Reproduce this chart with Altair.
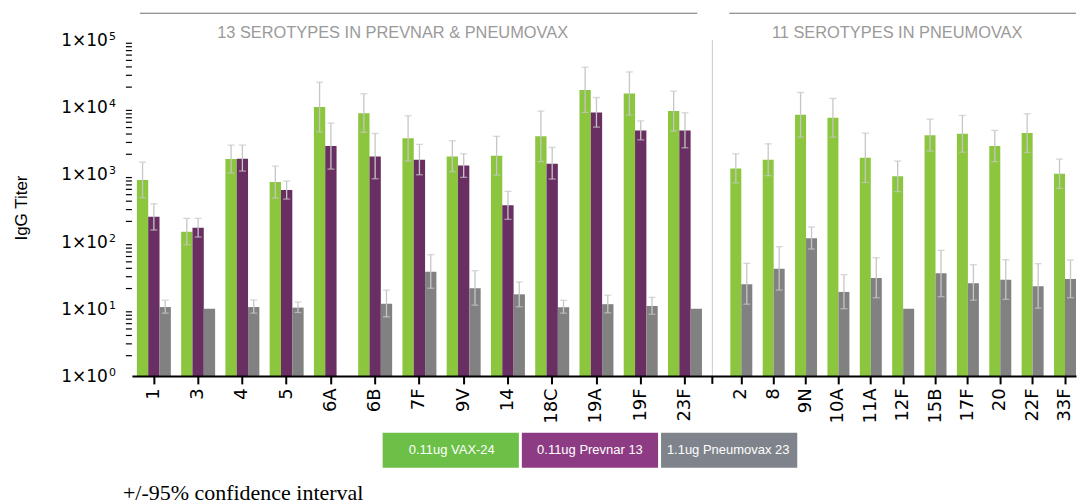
import altair as alt
import pandas as pd

# ---------------- data ----------------
LEFT_CATS = ["1", "3", "4", "5", "6A", "6B", "7F", "9V", "14", "18C", "19A", "19F", "23F"]
RIGHT_CATS = ["2", "8", "9N", "10A", "11A", "12F", "15B", "17F", "20", "22F", "33F"]
SERIES = ["0.11ug VAX-24", "0.11ug Prevnar 13", "1.1ug Pneumovax 23"]
BAR_COLORS = ["#8cc63f", "#6a2f62", "#818181"]
LEGEND_COLORS = ["#6cbf47", "#8d3c84", "#7f848c"]
HEADERS = ["13 SEROTYPES IN PREVNAR & PNEUMOVAX", "11 SEROTYPES IN PNEUMOVAX"]
Y_TITLE = "IgG Titer"
FOOTNOTE = "+/-95% confidence interval"
Y_TICKS = [1, 10, 100, 1000, 10000, 100000]
Y_TICK_BASE = ["1×10", "1×10", "1×10", "1×10", "1×10", "1×10"]
Y_TICK_EXP = ["0", "1", "2", "3", "4", "5"]
Y_MINOR = [2, 3, 4, 5, 6, 7, 8, 9,
           20, 30, 40, 50, 60, 70, 80, 90,
           200, 300, 400, 500, 600, 700, 800, 900,
           2000, 3000, 4000, 5000, 6000, 7000, 8000, 9000,
           20000, 30000, 40000, 50000, 60000, 70000, 80000, 90000]

VAX_L = [830, 140, 1700, 770, 10100, 8200, 3450, 1860, 1900, 3700, 18200, 16100, 8800]
VAX_L_HI = [1530, 222, 2740, 1330, 23700, 15900, 7500, 3180, 3700, 8800, 39600, 33700, 17400]
VAX_L_LO = [450, 90, 1050, 445, 4300, 4250, 1590, 1100, 980, 1550, 8400, 7700, 4450]
PREV_L = [235, 161, 1720, 586, 2650, 1860, 1655, 1366, 347, 1443, 8400, 4530, 4530]
PREV_L_HI = [366, 222, 2740, 798, 5820, 4080, 2805, 2033, 560, 2530, 14000, 6300, 8280]
PREV_L_LO = [149, 117, 1124, 430, 1203, 863, 990, 906, 215, 855, 5075, 3280, 2495]
PNEU_L = [10.6, 10, 10.6, 10.4, None, 11.9, 35.6, 20.2, 16.4, 10.5, 11.7, 11.0, 10]
PNEU_L_HI = [13.4, None, 13.5, 12.6, None, 18.9, 63.8, 36.9, 25.0, 13.4, 15.9, 14.8, None]
PNEU_L_LO = [8.6, None, 8.6, 8.8, None, 7.6, 20.2, 11.3, 10.7, 8.6, 8.7, 8.3, None]

VAX_R = [1230, 1655, 7740, 6980, 1770, 937, 3855, 4035, 2650, 4130, 1024]
VAX_R_HI = [2030, 2860, 16650, 13560, 4130, 1585, 6670, 7570, 4530, 8010, 1694]
VAX_R_LO = [750, 960, 3600, 3590, 760, 555, 2230, 2150, 1550, 2130, 620]
PNEU_R = [23.2, 39.5, 112, 17.8, 28.7, 10, 33.7, 23.9, 27.1, 21.6, 27.8]
PNEU_R_HI = [47.5, 84, 165, 32.2, 57.6, None, 74.2, 45.3, 53.8, 46.9, 53.2]
PNEU_R_LO = [11.7, 19, 77.6, 10.0, 14.6, None, 15.1, 13.4, 13.8, 10.2, 14.6]


def long_frame(cats, series_data):
    rows = []
    for name, vals, los, his in series_data:
        for c, v, lo, hi in zip(cats, vals, los, his):
            if v is None:
                continue
            rows.append({"cat": c, "grp": name, "v": v, "lo": lo, "hi": hi})
    return pd.DataFrame(rows)


left_df = long_frame(LEFT_CATS, [(SERIES[0], VAX_L, VAX_L_LO, VAX_L_HI),
                                 (SERIES[1], PREV_L, PREV_L_LO, PREV_L_HI),
                                 (SERIES[2], PNEU_L, PNEU_L_LO, PNEU_L_HI)])
right_df = long_frame(RIGHT_CATS, [(SERIES[0], VAX_R, VAX_R_LO, VAX_R_HI),
                                   (SERIES[2], PNEU_R, PNEU_R_LO, PNEU_R_HI)])

# ---------------- style ----------------
FONT = "Liberation Sans"
ERR = "#c6c6c6"
H = 336
WL, WR = 581, 364

ys = alt.Scale(type="log", domain=[1, 100000], nice=False)
color = alt.Color("grp:N", scale=alt.Scale(domain=SERIES, range=BAR_COLORS), legend=None)

xaxis = alt.Axis(title=None, labelAngle=-90, labelFontSize=18, labelFont="DejaVu Sans",
                 labelColor="black", tickColor="black", tickWidth=2, tickSize=8,
                 domainColor="black", domainWidth=2, labelPadding=4, labelOverlap=False,
                 zindex=1)
yaxis = alt.Axis(values=Y_TICKS, labels=False, title=None, tickSize=10, tickWidth=2,
                 tickColor="black", domainColor="black", domainWidth=2, grid=False, zindex=1)


def one(**kw):
    return alt.Chart(pd.DataFrame([kw]))


def panel_marks(df, cats, groups, xscale, with_axis):
    x = alt.X("cat:N", sort=cats, scale=xscale, axis=xaxis)
    xo = alt.XOffset("grp:N", sort=groups,
                     scale=alt.Scale(domain=groups, paddingInner=0, paddingOuter=0))
    base = alt.Chart(df)
    bars = base.mark_bar().encode(
        x=x, xOffset=xo,
        y=alt.Y("v:Q", scale=ys, axis=yaxis if with_axis else None),
        y2=alt.datum(1), color=color)
    eb = base.transform_filter("isValid(datum.hi)")
    rule = eb.mark_rule(color=ERR, strokeWidth=1.3).encode(
        x=x, xOffset=xo, y=alt.Y("lo:Q", scale=ys, axis=None), y2="hi:Q")
    cap_hi = eb.mark_tick(color=ERR, thickness=1.3, size=7, orient="horizontal").encode(
        x=x, xOffset=xo, y=alt.Y("hi:Q", scale=ys, axis=None))
    cap_lo = eb.mark_tick(color=ERR, thickness=1.3, size=7, orient="horizontal").encode(
        x=x, xOffset=xo, y=alt.Y("lo:Q", scale=ys, axis=None))
    return [bars, rule, cap_hi, cap_lo]


left_x = alt.Scale(domain=LEFT_CATS, paddingInner=0.2325, paddingOuter=0.1738, align=0.325, round=False)
right_x = alt.Scale(domain=RIGHT_CATS, paddingInner=0.321, paddingOuter=0.2778, align=1, round=False)

left_layers = panel_marks(left_df, LEFT_CATS, SERIES, left_x, True)
right_layers = panel_marks(right_df, RIGHT_CATS, [SERIES[0], SERIES[2]], right_x, False)

# y-axis tick labels with superscript exponent
ylab_df = pd.DataFrame({"val": Y_TICKS, "base": Y_TICK_BASE, "exp": Y_TICK_EXP})
ylab_main = alt.Chart(ylab_df).mark_text(align="right", baseline="alphabetic", dy=6, fontSize=17,
                                          font="DejaVu Sans", color="black").encode(
    x=alt.value(-24), y=alt.Y("val:Q", scale=ys, axis=None), text="base:N")
ylab_sup = alt.Chart(ylab_df).mark_text(align="left", baseline="alphabetic", fontSize=11,
                                         font="DejaVu Sans", color="black").encode(
    x=alt.value(-23), y=alt.Y("val:Q", scale=ys, axis=None), text="exp:N")
minor = alt.Chart(pd.DataFrame({"m": Y_MINOR})).mark_rule(color="black", strokeWidth=1.2).encode(
    y=alt.Y("m:Q", scale=ys, axis=None), x=alt.value(-6), x2=alt.value(0))
ytitle = one(t=Y_TITLE).mark_text(angle=270, fontSize=17, font=FONT, color="black",
                                  align="center", baseline="middle").encode(
    x=alt.value(-110), y=alt.value(H / 2), text="t:N")

head_line_l = one(a=0).mark_rule(color="#707070", strokeWidth=1).encode(
    x=alt.value(8), x2=alt.value(566), y=alt.value(-27))
head_text_l = one(t=HEADERS[0]).mark_text(fontSize=16.4, font=FONT, color="#9a9a9a", align="center",
                                          baseline="alphabetic").encode(
    x=alt.value(261), y=alt.value(-2), text="t:N")
divider = one(a=0).mark_rule(color="#c8c8c8", strokeWidth=1).encode(
    x=alt.value(WL), y=alt.value(0), y2=alt.value(H))
divider_tick = one(a=0).mark_rule(color="black", strokeWidth=2).encode(
    x=alt.value(WL), y=alt.value(H), y2=alt.value(H + 8))

head_line_r = one(a=0).mark_rule(color="#707070", strokeWidth=1).encode(
    x=alt.value(17), x2=alt.value(WR), y=alt.value(-27))
head_text_r = one(t=HEADERS[1]).mark_text(fontSize=16.4, font=FONT, color="#9a9a9a", align="center",
                                          baseline="alphabetic").encode(
    x=alt.value(185), y=alt.value(-2), text="t:N")

# legend boxes + footnote (placed below the left panel)
leg_df = pd.DataFrame({"name": SERIES})
leg_x = alt.X("name:N", sort=SERIES, axis=None,
              scale=alt.Scale(domain=SERIES, range=[251, 666], paddingInner=0.0215, paddingOuter=0))
leg_rect = alt.Chart(leg_df).mark_rect().encode(
    x=leg_x, y=alt.value(393), y2=alt.value(428),
    color=alt.Color("name:N", scale=alt.Scale(domain=SERIES, range=LEGEND_COLORS), legend=None))
leg_text = alt.Chart(leg_df).mark_text(color="white", fontSize=13, font=FONT, baseline="middle").encode(
    x=leg_x, y=alt.value(410.5), text="name:N")
foot = one(t=FOOTNOTE).mark_text(align="left", baseline="alphabetic", fontSize=22,
                                  font="Liberation Serif", color="black").encode(
    x=alt.value(-9), y=alt.value(460), text="t:N")

inner_left = alt.layer(*left_layers, minor, ylab_main, ylab_sup, ytitle,
                       head_line_l, head_text_l, divider, divider_tick)
left = alt.layer(inner_left, leg_rect, leg_text, foot).resolve_scale(
    x="independent", color="independent").properties(width=WL, height=H)
right = alt.layer(*right_layers, head_line_r, head_text_r).properties(width=WR, height=H)

chart = alt.hconcat(left, right, spacing=0, bounds="flush").resolve_scale(
    xOffset="independent", color="independent").properties(
    padding={"left": 5, "top": 4, "right": 0, "bottom": 0}
).configure_view(stroke=None)

chart.save("out.html", embed_options={"renderer": "svg", "actions": False})
